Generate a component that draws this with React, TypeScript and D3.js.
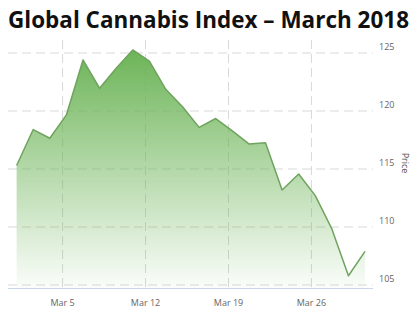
import React, { useLayoutEffect, useRef, useState } from "react";
import * as d3 from "d3";

const title = "Global Cannabis Index – March 2018";
const prices = [
  115.3, 118.4, 117.65, 119.66, 124.4, 121.96, 123.68, 125.26, 124.3, 121.85, 120.37,
  118.59, 119.35, 118.28, 117.16, 117.27, 113.19, 114.57, 112.7, 109.83, 105.8, 107.9,
];
const xTickLabels = ["Mar 5", "Mar 12", "Mar 19", "Mar 26"];
const xTickIndex = [2.77, 7.77, 12.77, 17.77];
const yTicks = [105, 110, 115, 120, 125];
const yAxisTitle = "Price";

const W = 420;
const H = 322;
const left = 8;
const right = 373;
const top = 40;
const bottom = 288;

export default function App() {
  const titleRef = useRef<SVGTextElement>(null);
  const [sx, setSx] = useState(0.87);
  useLayoutEffect(() => {
    if (titleRef.current) {
      const len = titleRef.current.getComputedTextLength();
      if (len > 0) setSx(401 / len);
    }
  }, []);
  const x = d3.scaleLinear().domain([-0.52, 21.48]).range([left, right]);
  const y = d3.scaleLinear().domain([104.74, 126.12]).range([bottom, top]);
  const pts = prices.map((v, i) => [i, v] as [number, number]);
  const area = d3
    .area<[number, number]>()
    .x((d) => x(d[0]))
    .y0(bottom)
    .y1((d) => y(d[1]));
  const line = d3
    .line<[number, number]>()
    .x((d) => x(d[0]))
    .y((d) => y(d[1]));
  const font = "'Open Sans', 'DejaVu Sans', sans-serif";
  return (
    <svg width={W} height={H} style={{ position: "absolute", left: 0, top: 0, background: "#fff" }}>
      <defs>
        <linearGradient id="g" x1="0" y1={y(125.3)} x2="0" y2={bottom} gradientUnits="userSpaceOnUse">
          <stop offset="0" stopColor="#6cb457" stopOpacity={1} />
          <stop offset="1" stopColor="#6cb457" stopOpacity={0.03} />
        </linearGradient>
      </defs>
      <g transform={`translate(8,28) scale(${sx},1)`}>
        <text ref={titleRef} x={0} y={0} fontFamily={font} fontWeight={700} fontSize={24} fill="#111">
          {title}
        </text>
      </g>
      {yTicks.map((t) => (
        <line
          key={"h" + t}
          x1={left}
          x2={right}
          y1={y(t)}
          y2={y(t)}
          stroke="#d8d8d8"
          strokeWidth={1}
          strokeDasharray="9,5"
        />
      ))}
      {xTickIndex.map((t, i) => (
        <line
          key={"v" + i}
          x1={x(t)}
          x2={x(t)}
          y1={top}
          y2={bottom}
          stroke="#d8d8d8"
          strokeWidth={1}
          strokeDasharray="9,5"
        />
      ))}
      <path d={area(pts) || ""} fill="url(#g)" />
      <path d={line(pts) || ""} fill="none" stroke="#6fa35e" strokeWidth={1.5} strokeLinejoin="round" />
      <line x1={left} x2={right} y1={bottom + 0.5} y2={bottom + 0.5} stroke="#ccd6eb" strokeWidth={1} />
      {yTicks.map((t) => (
        <text key={"yl" + t} x={379} y={y(t) - 3} fontFamily={font} fontSize={9} fill="#666">
          {t}
        </text>
      ))}
      {xTickIndex.map((t, i) => (
        <text
          key={"xl" + i}
          x={x(t)}
          y={306}
          textAnchor="middle"
          fontFamily={font}
          fontSize={9}
          fill="#666"
        >
          {xTickLabels[i]}
        </text>
      ))}
      <text
        transform={`translate(402,163) rotate(90)`}
        textAnchor="middle"
        fontFamily={font}
        fontSize={9}
        fill="#555"
      >
        {yAxisTitle}
      </text>
    </svg>
  );
}
